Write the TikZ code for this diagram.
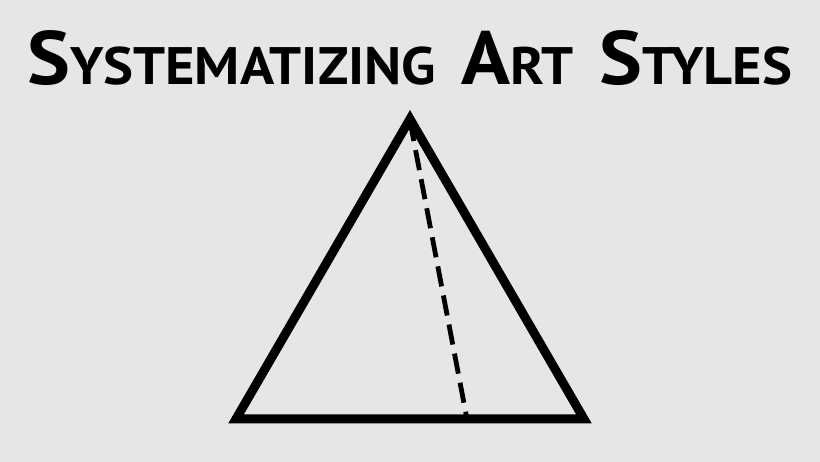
\documentclass[tikz,border=0pt]{standalone}
\usepackage{fontspec}
\setmainfont{PT Sans}
\newcommand{\tlarge}[1]{{\fontsize{76}{76}\selectfont #1}}
\newcommand{\tsmall}[1]{{\fontsize{53}{53}\selectfont #1}}
\definecolor{paper}{RGB}{230,230,230}
\tikzset{
  edge/.style={line width=9pt, line join=miter, black},
  axisline/.style={line width=4.8pt, black, dash pattern=on 20.4pt off 9.2pt},
}
\begin{document}
\begin{tikzpicture}[x=1pt,y=-1pt]
\fill[paper] (0,0) rectangle (820,462);
\useasboundingbox (0,0) rectangle (820,462);
\node[anchor=base west, inner sep=0pt] (title) at (27,85)
  {\resizebox{765pt}{54pt}{\bfseries\tlarge{S}\tsmall{YSTEMATIZING}\hspace{24pt}\tlarge{A}\tsmall{RT}\hspace{24pt}\tlarge{S}\tsmall{TYLES}}};
\coordinate (apex) at (410,119);
\coordinate (bl) at (236,419);
\coordinate (br) at (584,419);
\coordinate (foot) at (467,419);
\draw[axisline] (410,121) -- (foot);
\draw[edge] (apex) -- (bl) -- (br) -- cycle;
\end{tikzpicture}
\end{document}
